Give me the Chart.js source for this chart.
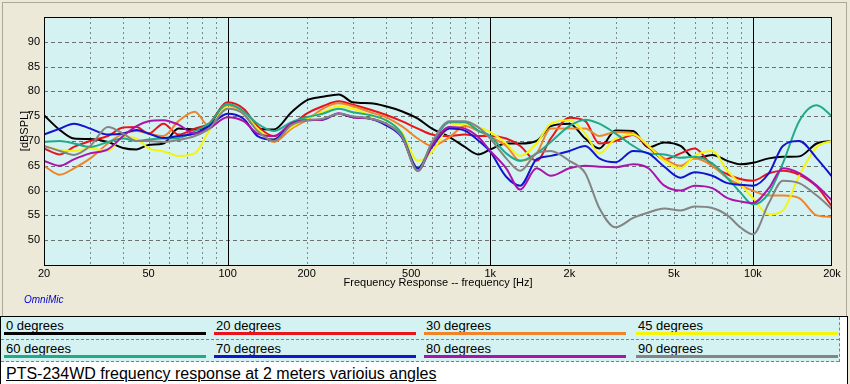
<!DOCTYPE html>
<html>
<head>
<meta charset="utf-8">
<script src="https://cdn.jsdelivr.net/npm/chart.js@4.4.0/dist/chart.umd.min.js"></script>
<style>
  body { margin: 0; width: 850px; height: 384px; overflow: hidden; background: #ece9d8;
         font-family: "Liberation Sans", Arial, sans-serif; position: relative; }
  #frame { position: absolute; left: 2px; top: 2px; width: 845px; height: 320px;
           border: 1px solid #aca899; box-sizing: border-box; }
  #wrap { position: absolute; left: 0; top: 0; width: 850px; height: 316px; }
  #legend { position: absolute; left: 0; top: 316px; width: 848px; height: 70px;
            border: 1px solid #000; background: #fff; box-sizing: border-box; }
  #rows { position: absolute; left: 0; top: 0; width: 838px; height: 45px; background: #d5f2f2;
          border-right: 1px dashed #808080; }
  .sep { position: absolute; left: 0; width: 838px; height: 0; border-top: 1px dashed #808080; }
  .item { position: absolute; width: 202px; height: 22px; }
  .item span { position: absolute; left: 2px; top: 2px; font-size: 13px; line-height: 13px; color: #000; }
  .item i { position: absolute; left: 0; right: 0; top: 15px; height: 3px; }
  #title { position: absolute; left: 5px; top: 48px; font-size: 16px; line-height: 18px;
           text-decoration: underline; color: #000; white-space: nowrap; }
</style>
</head>
<body>
<div id="frame"></div>
<div id="wrap"><canvas id="myChart" width="850" height="316"></canvas></div>
<div id="legend">
  <div id="rows"></div>
  <div class="sep" style="top:22px"></div>
  <div class="sep" style="top:44px"></div>
  <div id="title">PTS-234WD frequency response at 2 meters varioius angles</div>
</div>
<script>
// data (Hz / dB SPL)
const freqs = [20, 23, 26, 30, 35, 40, 45, 50, 57, 65,
  75, 85, 100, 115, 130, 150, 175, 200, 230, 265,
  300, 350, 400, 460, 530, 600, 700, 800, 900, 1000,
  1150, 1300, 1500, 1700, 2000, 2300, 2600, 3000, 3500, 4000,
  4600, 5300, 6000, 7000, 8000, 9000, 10000, 11500, 13000, 15000,
  17500, 20000];

const deg0 = [75.2, 72.2, 70.5, 70.4, 69.8, 68.6, 68.3, 69.2, 69.5, 72.5,
  72.3, 73.2, 77.3, 75.5, 72.5, 72.3, 75.8, 78.2, 78.9, 79.4,
  77.8, 77.6, 77.0, 76.0, 74.5, 72.5, 70.8, 68.8, 67.3, 68.3,
  69.5, 69.5, 70.0, 73.0, 73.5, 70.5, 68.5, 72.1, 72.0, 68.7,
  69.7, 69.0, 66.5, 67.2, 66.0, 65.3, 65.6, 66.5, 66.8, 66.9,
  69.5, 70.0];
const deg20 = [68.5, 67.3, 68.8, 70.0, 71.0, 72.7, 72.8, 71.5, 73.5, 71.3,
  72.5, 73.5, 77.8, 76.5, 73.0, 71.0, 73.2, 75.5, 77.0, 78.0,
  77.3, 76.3, 75.3, 74.0, 72.5, 71.3, 71.0, 71.3, 71.0, 71.0,
  70.5, 69.0, 66.0, 70.5, 74.7, 74.0, 69.5, 70.0, 71.2, 68.8,
  66.3, 67.5, 68.5, 65.0, 63.3, 62.3, 62.0, 63.5, 64.0, 63.2,
  60.8, 56.8];
const deg30 = [65.0, 63.2, 64.5, 66.5, 69.5, 71.5, 72.0, 71.5, 71.0, 74.0,
  75.9, 73.0, 77.3, 75.5, 72.5, 69.8, 72.5, 74.2, 76.5, 77.6,
  77.0, 75.8, 74.8, 73.0, 70.5, 69.0, 70.8, 73.0, 72.0, 70.8,
  69.0, 66.0, 67.5, 72.5, 72.5, 72.5, 71.0, 71.8, 71.5, 69.0,
  66.5, 65.0, 66.5, 65.0, 62.5, 61.0, 60.0, 59.0, 59.0, 58.5,
  55.0, 54.7];
const deg45 = [69.0, 68.2, 68.0, 68.5, 68.0, 70.8, 70.5, 68.5, 67.9, 67.0,
  67.5, 72.0, 76.8, 75.5, 72.5, 70.5, 72.8, 74.5, 75.8, 77.0,
  76.5, 75.2, 74.2, 71.8, 66.0, 67.8, 73.0, 73.5, 72.8, 71.8,
  69.5, 67.0, 69.5, 73.5, 74.2, 71.5, 67.5, 70.5, 71.3, 69.0,
  66.0, 64.5, 67.0, 68.0, 64.0, 61.2, 58.5, 55.2, 56.0, 63.0,
  68.8, 70.0];
const deg60 = [69.8, 70.0, 69.5, 68.8, 69.8, 70.5, 70.0, 70.3, 70.5, 70.6,
  72.0, 73.5, 77.5, 76.0, 73.5, 72.0, 73.8, 74.8, 75.5, 76.5,
  75.8, 75.2, 74.2, 71.5, 64.5, 69.5, 73.8, 73.8, 72.1, 71.0,
  67.5, 66.0, 67.5, 69.8, 73.0, 74.3, 73.5, 71.5, 69.0, 67.5,
  67.3, 66.6, 66.8, 65.5, 62.5, 59.5, 57.2, 59.5, 65.5, 74.0,
  77.2, 75.0];
const deg70 = [71.3, 72.5, 73.5, 72.5, 71.3, 71.5, 72.2, 71.5, 70.6, 71.0,
  71.5, 73.0, 75.5, 74.5, 71.0, 70.3, 73.5, 74.2, 74.3, 75.5,
  74.8, 74.5, 73.2, 70.8, 64.5, 68.8, 72.5, 72.1, 70.1, 67.8,
  62.8, 61.0, 66.3, 67.0, 68.0, 69.0, 66.5, 65.7, 68.0, 67.5,
  64.8, 62.6, 63.7, 63.0, 61.5, 61.2, 61.0, 63.5, 69.0, 70.0,
  66.5, 62.8];
const deg80 = [66.0, 65.0, 66.3, 67.5, 68.3, 71.0, 73.0, 74.0, 74.2, 73.3,
  71.5, 72.5, 74.8, 74.0, 71.5, 71.0, 73.5, 74.2, 74.3, 75.6,
  74.8, 74.5, 73.5, 71.0, 64.0, 69.1, 72.8, 72.5, 70.8, 68.0,
  64.5, 60.2, 64.5, 63.0, 64.5, 65.0, 64.8, 64.7, 65.3, 64.5,
  61.0, 60.0, 61.0, 60.5, 58.5, 57.8, 57.5, 60.5, 64.5, 63.5,
  61.0, 58.0];
const deg90 = [69.0, 68.0, 67.2, 69.0, 72.8, 71.5, 70.0, 70.0, 69.8, 70.2,
  71.0, 72.5, 76.5, 75.5, 72.0, 70.0, 73.2, 74.2, 74.5, 75.5,
  75.0, 74.5, 73.5, 71.0, 64.0, 69.8, 74.0, 74.0, 72.8, 70.5,
  66.5, 64.0, 67.5, 68.0, 66.0, 63.5, 56.5, 52.6, 54.5, 55.6,
  56.4, 56.0, 56.8, 56.5, 55.0, 52.5, 51.2, 57.5, 62.0, 61.5,
  59.0, 56.3];

const seriesNames = ["0 degrees", "20 degrees", "30 degrees", "45 degrees",
  "60 degrees", "70 degrees", "80 degrees", "90 degrees"];
const seriesValues = [deg0, deg20, deg30, deg45, deg60, deg70, deg80, deg90];
const seriesColors = ["#000000", "#e8141c", "#f0842a", "#f4f40c",
  "#22aa88", "#1414cc", "#aa14aa", "#848484"];

const xGridLines = [30, 40, 50, 60, 70, 80, 90, 200, 300, 400, 500, 600, 700, 800, 900,
  2000, 3000, 4000, 5000, 6000, 7000, 8000, 9000];
const xBoldLines = [100, 1000, 10000];
const xTickLabels = { 20: "20", 50: "50", 100: "100", 200: "200", 500: "500",
  1000: "1k", 2000: "2k", 5000: "5k", 10000: "10k", 20000: "20k" };
const yTicks = [50, 55, 60, 65, 70, 75, 80, 85, 90];

// legend (html)
const rows = document.getElementById("rows");
const colLeft = [3, 213, 423, 635];
seriesNames.forEach((name, i) => {
  const d = document.createElement("div");
  d.className = "item";
  d.style.left = colLeft[i % 4] + "px";
  d.style.top = (Math.floor(i / 4) * 23) + "px";
  d.innerHTML = "<span>" + name + "</span><i style='background:" + seriesColors[i] + "'></i>";
  rows.appendChild(d);
});

// background, grid and extra texts
const gridPlugin = {
  id: "gridPlugin",
  beforeDatasetsDraw(chart) {
    const { ctx, chartArea: a, scales } = chart;
    ctx.save();
    ctx.fillStyle = "#d5f2f2";
    ctx.fillRect(a.left, a.top, a.right - a.left, a.bottom - a.top);
    ctx.lineWidth = 1;
    ctx.strokeStyle = "#7a8a8a";
    ctx.setLineDash([2, 3]);
    xGridLines.forEach((v) => {
      const x = Math.round(scales.x.getPixelForValue(v)) + 0.5;
      ctx.beginPath(); ctx.moveTo(x, a.top); ctx.lineTo(x, a.bottom); ctx.stroke();
    });
    ctx.strokeStyle = "#707070";
    ctx.setLineDash([4, 3]);
    yTicks.forEach((v) => {
      const y = Math.round(scales.y.getPixelForValue(v)) + 0.5;
      ctx.beginPath(); ctx.moveTo(a.left, y); ctx.lineTo(a.right, y); ctx.stroke();
    });
    ctx.setLineDash([]);
    ctx.strokeStyle = "#000";
    xBoldLines.forEach((v) => {
      const x = Math.round(scales.x.getPixelForValue(v)) + 0.5;
      ctx.beginPath(); ctx.moveTo(x, a.top); ctx.lineTo(x, a.bottom); ctx.stroke();
    });
    ctx.restore();
  },
  afterDraw(chart) {
    const { ctx, chartArea: a } = chart;
    ctx.save();
    ctx.strokeStyle = "#000";
    ctx.lineWidth = 1;
    ctx.strokeRect(a.left + 0.5, a.top + 0.5, a.right - a.left - 1, a.bottom - a.top);
    ctx.fillStyle = "#000";
    ctx.font = "11px 'Liberation Sans', Arial, sans-serif";
    ctx.textAlign = "center";
    ctx.textBaseline = "middle";
    ctx.translate(25, 131);
    ctx.rotate(-Math.PI / 2);
    ctx.fillText("[dBSPL]", 0, 0);
    ctx.restore();
    ctx.save();
    ctx.fillStyle = "#0000cc";
    ctx.font = "italic 10px 'Liberation Sans', Arial, sans-serif";
    ctx.textBaseline = "middle";
    ctx.fillText("OmniMic", 24, 300);
    ctx.restore();
  },
};

const chart = new Chart("myChart", {
  type: "line",
  data: {
    datasets: seriesValues.map((vals, i) => ({
      label: seriesNames[i],
      data: freqs.map((f, j) => ({ x: f, y: vals[j] })),
      borderColor: seriesColors[i],
      borderWidth: 2,
      pointRadius: 0,
      fill: false,
      cubicInterpolationMode: "monotone",
      order: 7 - i,
    })),
  },
  options: {
    responsive: false,
    animation: false,
    layout: { padding: { top: 17, right: 18, left: 0, bottom: 0 } },
    plugins: { legend: { display: false }, tooltip: { enabled: false } },
    scales: {
      x: {
        type: "logarithmic",
        min: 20,
        max: 20000,
        afterBuildTicks: (s) => { s.ticks = Object.keys(xTickLabels).map((v) => ({ value: Number(v) })); },
        afterFit: (s) => { s.height = 51; },
        grid: { display: false, drawTicks: false },
        border: { display: false },
        ticks: {
          autoSkip: false, maxRotation: 0, minRotation: 0, padding: 2, color: "#000",
          font: { size: 11, family: "'Liberation Sans', Arial, sans-serif" },
          callback: (v) => xTickLabels[v] || "",
        },
        title: {
          display: true,
          text: "Frequency Response -- frequency [Hz]",
          color: "#000",
          font: { size: 11, family: "'Liberation Sans', Arial, sans-serif" },
          padding: { top: 0, bottom: 26 },
        },
      },
      y: {
        min: 45,
        max: 95,
        afterBuildTicks: (s) => { s.ticks = yTicks.map((v) => ({ value: v })); },
        afterFit: (s) => { s.width = 44; },
        grid: { display: false, drawTicks: false },
        border: { display: false },
        ticks: {
          padding: 4, color: "#000",
          font: { size: 11, family: "'Liberation Sans', Arial, sans-serif" },
        },
      },
    },
  },
  plugins: [gridPlugin],
});
</script>
</body>
</html>
